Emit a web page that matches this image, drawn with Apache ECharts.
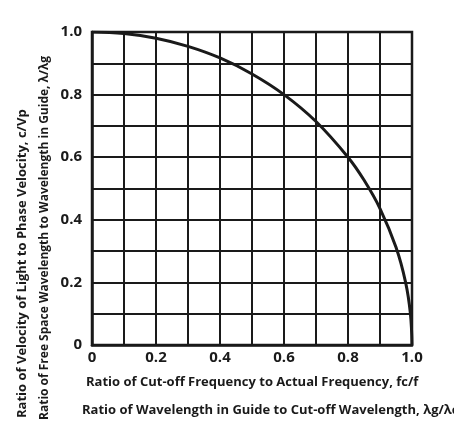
<!DOCTYPE html>
<html>
<head>
<meta charset="utf-8">
<script src="https://cdn.jsdelivr.net/npm/echarts@6/dist/echarts.min.js"></script>
<style>
  html, body { margin: 0; padding: 0; background: #fff; }
  #chart { width: 454px; height: 427px; }
</style>
</head>
<body>
<div id="chart"></div>
<script>
// ratio f_c / f  (x) vs  c / Vp (y)
const ratioX = [0, 0.1, 0.2, 0.3, 0.4, 0.5, 0.6, 0.7, 0.8, 0.85, 0.9, 0.95, 0.98, 0.995, 1.0];
const ratioY = [1.0, 0.995, 0.98, 0.954, 0.917, 0.866, 0.80, 0.714, 0.60, 0.527, 0.436, 0.312, 0.2, 0.1, 0];
const tickLabels = ['0', '0.2', '0.4', '0.6', '0.8', '1.0'];

const xTitle1 = 'Ratio of Cut-off Frequency to Actual Frequency, fc/f';
const xTitle2 = 'Ratio of Wavelength in Guide to Cut-off Wavelength, λg/λc';
const yTitle1 = 'Ratio of Velocity of Light to Phase Velocity, c/Vp';
const yTitle2 = 'Ratio of Free Space Wavelength to Wavelength in Guide, λ/λg';

const font = '"Open Sans", sans-serif';
const ink = '#1a1a1a';

const chart = echarts.init(document.getElementById('chart'));

function tickFmt(v) {
    let i = Math.round(v * 10);
    if (i % 2 !== 0) return '';
    return tickLabels[i / 2];
}

chart.setOption({
    animation: false,
    backgroundColor: '#fff',
    grid: { left: 92, right: 42, top: 32, bottom: 82 },
    xAxis: {
        type: 'value', min: 0, max: 1, interval: 0.1,
        axisLine: { show: true, onZero: false, lineStyle: { color: ink, width: 2.5 } },
        axisTick: { show: false },
        axisLabel: { formatter: tickFmt, color: ink, fontSize: 15, fontWeight: 'bold', fontFamily: font, margin: 5 },
        splitLine: { show: true, lineStyle: { color: ink, width: 2 } }
    },
    yAxis: {
        type: 'value', min: 0, max: 1, interval: 0.1,
        axisLine: { show: true, onZero: false, lineStyle: { color: ink, width: 2.5 } },
        axisTick: { show: false },
        axisLabel: { formatter: tickFmt, color: ink, fontSize: 15, fontWeight: 'bold', fontFamily: font, margin: 10 },
        splitLine: { show: true, lineStyle: { color: ink, width: 2 } }
    },
    graphic: [
        { type: 'rect', shape: { x: 92, y: 32, width: 320, height: 313 }, style: { fill: 'none', stroke: ink, lineWidth: 2.5 }, silent: true },
        { type: 'text', x: 86, y: 382, style: { text: xTitle1, font: 'bold 13px ' + font, fill: ink, textVerticalAlign: 'middle' } },
        { type: 'text', x: 82, y: 410, style: { text: xTitle2, font: 'bold 13px ' + font, fill: ink, textVerticalAlign: 'middle' } },
        { type: 'text', x: 22, y: 418, rotation: Math.PI / 2, style: { text: yTitle1, font: 'bold 13px ' + font, fill: ink, textVerticalAlign: 'middle' } },
        { type: 'text', x: 45, y: 420, rotation: Math.PI / 2, style: { text: yTitle2, font: 'bold 12px ' + font, fill: ink, textVerticalAlign: 'middle' } }
    ],
    series: [{
        type: 'line',
        data: ratioX.map((x, i) => [x, ratioY[i]]),
        smooth: 0.4,
        showSymbol: false,
        lineStyle: { color: ink, width: 3 }
    }]
});
</script>
</body>
</html>
